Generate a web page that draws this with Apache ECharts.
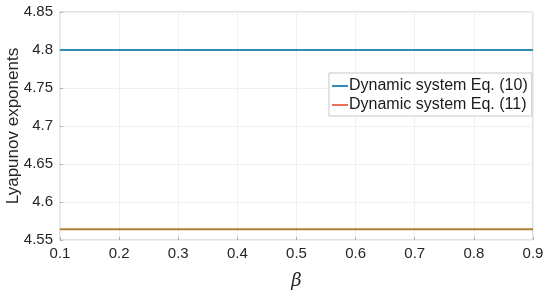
<!DOCTYPE html>
<html>
<head>
<meta charset="utf-8">
<script src="https://cdn.jsdelivr.net/npm/echarts@6/dist/echarts.min.js"></script>
<style>
  html, body { margin: 0; padding: 0; background: #fff; }
  #chart { width: 550px; height: 293px; }
</style>
</head>
<body>
<div id="chart"></div>
<script>
// beta values
const betaValues = [0.1, 0.2, 0.3, 0.4, 0.5, 0.6, 0.7, 0.8, 0.9]
// Lyapunov exponents of the two systems
const eq10Values = [4.8, 4.8, 4.8, 4.8, 4.8, 4.8, 4.8, 4.8, 4.8]
const eq11Values = [4.564, 4.564, 4.564, 4.564, 4.564, 4.564, 4.564, 4.564, 4.564]
const seriesNames = ['Dynamic system Eq. (10)', 'Dynamic system Eq. (11)']

const font = 'Liberation Sans, Arial, Helvetica, sans-serif'
const chart = echarts.init(document.getElementById('chart'))

const trimZeros = v => String(parseFloat(v.toFixed(2)))

chart.setOption({
  animation: false,
  grid: {
    left: 60, right: 17, top: 12, bottom: 53,
    outerBoundsMode: 'none',
    containLabel: false,
    show: true, borderColor: '#c4c4c4', borderWidth: 1
  },
  legend: {
    orient: 'vertical',
    left: 329, top: 73,
    width: 199,
    padding: [5, 4, 3, 3],
    itemGap: 3,
    itemWidth: 16, itemHeight: 2,
    icon: 'rect',
    backgroundColor: '#fff',
    borderColor: '#c8c8c8', borderWidth: 1,
    textStyle: { fontFamily: font, fontSize: 16, color: '#1a1a1a', padding: [0, 0, 0, -4] },
    data: [
      { name: seriesNames[0], itemStyle: { color: '#2f8cb8' } },
      { name: seriesNames[1], itemStyle: { color: '#e8735a' } }
    ]
  },
  xAxis: {
    type: 'value',
    min: 0.1, max: 0.9, interval: 0.1,
    name: 'β',
    nameLocation: 'middle',
    nameGap: 32,
    nameTextStyle: { fontFamily: 'DejaVu Serif, serif', fontStyle: 'italic', fontSize: 18, color: '#262626' },
    axisLine: { show: false },
    axisTick: { show: true, inside: true, length: 3, lineStyle: { color: '#b0b0b0' } },
    axisLabel: { fontFamily: font, fontSize: 15, color: '#262626', margin: 6, formatter: v => v.toFixed(1) },
    splitLine: { show: true, lineStyle: { color: '#f0f0f0', width: 1 } }
  },
  yAxis: {
    type: 'value',
    min: 4.55, max: 4.85, interval: 0.05,
    name: 'Lyapunov exponents',
    nameLocation: 'middle',
    nameGap: 38,
    nameMoveOverlap: false,
    nameTextStyle: { fontFamily: font, fontSize: 17, color: '#262626' },
    axisLine: { show: false },
    axisTick: { show: true, inside: true, length: 3, lineStyle: { color: '#b0b0b0' } },
    axisLabel: { fontFamily: font, fontSize: 15, color: '#262626', margin: 7, formatter: trimZeros },
    splitLine: { show: true, lineStyle: { color: '#f0f0f0', width: 1 } }
  },
  series: [
    {
      name: seriesNames[0],
      type: 'line',
      data: betaValues.map((b, i) => [b, eq10Values[i]]),
      showSymbol: false,
      lineStyle: { color: '#2f8cb8', width: 2 },
      itemStyle: { color: '#2f8cb8' }
    },
    {
      name: seriesNames[1],
      type: 'line',
      data: betaValues.map((b, i) => [b, eq11Values[i]]),
      showSymbol: false,
      lineStyle: { color: '#b07f35', width: 2 },
      itemStyle: { color: '#b07f35' }
    }
  ]
})
</script>
</body>
</html>
